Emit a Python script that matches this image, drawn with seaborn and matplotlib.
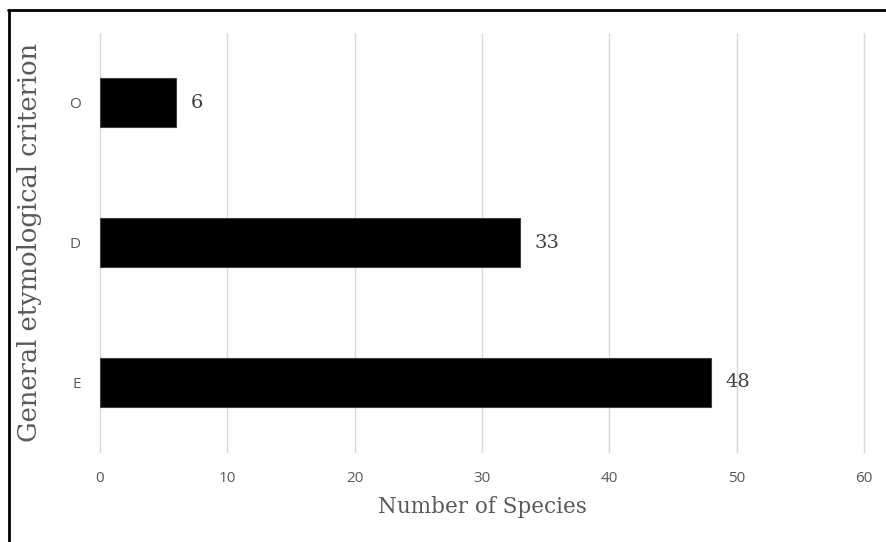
import matplotlib
matplotlib.use("Agg")
import matplotlib.pyplot as plt
import seaborn as sns
import pandas as pd
from matplotlib.lines import Line2D

categories = ["O", "D", "E"]
values = [6, 33, 48]
x_ticks = [0, 10, 20, 30, 40, 50, 60]

df = pd.DataFrame({"criterion": categories, "species": values})

sns.set_style("white")
W, H = 886, 542
fig = plt.figure(figsize=(W / 100, H / 100), dpi=100)
ax = fig.add_axes([100 / W, 1 - 452 / H, (864 - 100) / W, (452 - 33) / H])

sns.barplot(data=df, x="species", y="criterion", order=categories, color="black",
            width=0.35, edgecolor="#404040", linewidth=0.8, ax=ax, saturation=1)

serif = ["DejaVu Serif"]
sans = ["Open Sans", "DejaVu Sans"]

ax.set_xlim(0, 60)
ax.set_ylim(2.5, -0.5)
ax.set_xticks(x_ticks)
ax.set_xticklabels([str(t) for t in x_ticks], fontsize=11, color="#595959", family=sans)
ax.set_yticks(range(len(categories)))
ax.set_yticklabels(categories, fontsize=11, color="#595959", family=sans)
ax.tick_params(axis="x", length=0, pad=14)
ax.tick_params(axis="y", length=0, pad=14)
ax.grid(axis="x", color="#d9d9d9", linewidth=1)
for gl in ax.get_xgridlines():
    gl.set_clip_on(False)
ax.set_axisbelow(True)
for s in ax.spines.values():
    s.set_visible(False)

ax.set_xlabel("Number of Species", fontsize=15.5, color="#595959", family=serif, labelpad=7)
ax.set_ylabel("General etymological criterion", fontsize=18.5, color="#595959",
              family=serif, labelpad=19)

for i, v in enumerate(values):
    ax.annotate(str(v), xy=(v, i), xytext=(10, 0), textcoords="offset points",
                va="center", ha="left", fontsize=14, color="#404040", family=serif)

# Partial frame (left and top edges visible)
fig.add_artist(Line2D([9 / W, 9 / W], [0, 1 - 10 / H], transform=fig.transFigure,
                      color="black", linewidth=2))
fig.add_artist(Line2D([8 / W, 1], [1 - 10 / H, 1 - 10 / H], transform=fig.transFigure,
                      color="black", linewidth=2))

fig.savefig("out.png", dpi=100)
